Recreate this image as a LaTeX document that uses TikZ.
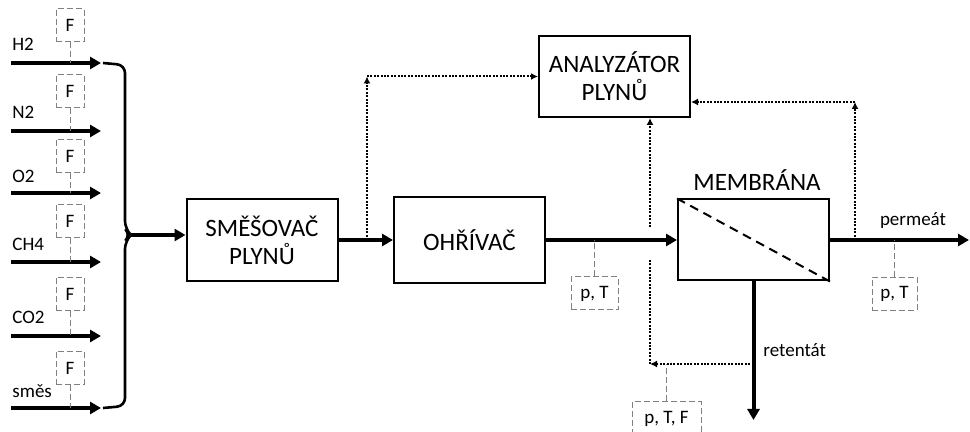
\documentclass[tikz,border=0pt]{standalone}
\usepackage{fontspec}
\setmainfont{Carlito}
\usetikzlibrary{arrows.meta,positioning}

\begin{document}
\begin{tikzpicture}[x=0.5pt,y=-0.5pt,
  unit/.style={draw,line width=1pt,minimum width=75.5pt,minimum height=41pt,inner sep=0pt,align=center,font=\fontsize{12.5}{14}\selectfont},
  meas/.style={draw=gray,dash pattern=on 3pt off 1.5pt,line width=0.5pt,minimum width=14pt,minimum height=16.5pt,inner sep=1pt,font=\fontsize{9.5}{11}\selectfont},
  tap/.style={gray,dash pattern=on 3pt off 1.5pt,line width=0.5pt},
  flow/.style={line width=2pt,-{Triangle[length=5.5pt,width=6pt]}},
  sig/.style={line width=1pt,dash pattern=on 1pt off 0.7pt,-{Latex[length=3.5pt,width=3.5pt]}},
  lbl/.style={font=\fontsize{9.5}{11}\selectfont,inner sep=0pt}
]
\useasboundingbox (0,0) rectangle (970,432);
\clip (0,0) rectangle (970,432);

% vstupni plyny
\coordinate (h2s) at (11,63); \coordinate (h2e) at (101,63);
\draw[flow] (h2s) -- (h2e);
\node[lbl,anchor=west] (h2) at (12,44) {H2};
\node[meas] (fh2) at (70,25.5) {F};
\draw[tap] (fh2.south) -- (fh2.south |- h2e);

\coordinate (n2s) at (11,131); \coordinate (n2e) at (101,131);
\draw[flow] (n2s) -- (n2e);
\node[lbl,anchor=west] (n2) at (12,112) {N2};
\node[meas] (fn2) at (70,91.5) {F};
\draw[tap] (fn2.south) -- (fn2.south |- n2e);

\coordinate (o2s) at (11,193); \coordinate (o2e) at (101,193);
\draw[flow] (o2s) -- (o2e);
\node[lbl,anchor=west] (o2) at (12,176) {O2};
\node[meas] (fo2) at (70,156) {F};
\draw[tap] (fo2.south) -- (fo2.south |- o2e);

\coordinate (ch4s) at (11,262); \coordinate (ch4e) at (101,262);
\draw[flow] (ch4s) -- (ch4e);
\node[lbl,anchor=west] (ch4) at (12,244) {CH4};
\node[meas] (fch4) at (70,221) {F};
\draw[tap] (fch4.south) -- (fch4.south |- ch4e);

\coordinate (co2s) at (11,336); \coordinate (co2e) at (101,336);
\draw[flow] (co2s) -- (co2e);
\node[lbl,anchor=west] (co2) at (12,317) {CO2};
\node[meas] (fco2) at (70,294) {F};
\draw[tap] (fco2.south) -- (fco2.south |- co2e);

\coordinate (mixs) at (11,408); \coordinate (mixe) at (101,408);
\draw[flow] (mixs) -- (mixe);
\node[lbl,anchor=west] (smes) at (12,391) {směs};
\node[meas] (fmix) at (70,368) {F};
\draw[tap] (fmix.south) -- (fmix.south |- mixe);

% zavorka
\coordinate (brTip) at (131,235);
\draw[line width=1.3pt,rounded corners=4pt] (103,63) -- (125,65) -- (125,229) -- (brTip) -- (125,241) -- (125,406) -- (103,408);

% jednotky
\node[unit] (mix) at (262,240) {SMĚŠOVAČ\\PLYNŮ};
\node[unit,minimum height=43pt] (heat) at (469.5,240) {OHŘÍVAČ};
\node[unit,minimum height=40.5pt] (ana) at (614.5,76.5) {ANALYZÁTOR\\PLYNŮ};
\node[unit,minimum height=40.5pt] (mem) at (753.5,240) {};
\draw[line width=1pt,dash pattern=on 4.5pt off 3pt] (mem.north west) -- (mem.south east);
\node[font=\fontsize{12.5}{14}\selectfont,inner sep=0pt] (memlbl) at (757,180) {MEMBRÁNA};

% hlavni tok
\draw[flow] (brTip) -- (brTip -| mix.west);
\draw[flow] (mix.east) -- (heat.west);
\draw[flow] (heat.east) -- (mem.west);
\coordinate (permEnd) at (969,240);
\draw[flow] (mem.east) -- (permEnd);
\coordinate (retEnd) at (753.5,420);
\draw[flow] (mem.south) -- (retEnd);
\node[lbl,anchor=base] (perm) at (913,226) {permeát};
\node[lbl,anchor=base west] (ret) at (763,357) {retentát};

% odbery do analyzatoru
\coordinate (tapA) at (367,240); \coordinate (cornA) at (367,76.5);
\draw[sig] (tapA) -- (cornA);
\draw[sig] (cornA) -- (ana.west);
\coordinate (tapP) at (855,240); \coordinate (cornP) at (855,102);
\draw[sig] (tapP) -- (cornP);
\draw[sig] (cornP) -- (cornP -| ana.east);
\coordinate (retTap) at (753.5,364); \coordinate (cornR) at (650,364);
\draw[sig] (retTap) -- (cornR);
\coordinate (gapLo) at (650,259); \coordinate (gapHi) at (650,227);
\draw[sig,-] (cornR) -- (gapLo);
\draw[sig] (gapHi) -- (gapHi |- ana.south);

% mereni p, T
\node[meas,minimum width=23.5pt] (ptA) at (594.5,293.5) {p, T};
\draw[tap] (ptA.north) -- (ptA.north |- heat.east);
\node[meas,minimum width=22.5pt] (ptB) at (894.5,294) {p, T};
\draw[tap] (ptB.north) -- (ptB.north |- mem.east);
\node[meas,minimum width=34.5pt] (ptF) at (666.5,418.5) {p, T, F};
\draw[tap] (ptF.north) -- (ptF.north |- retTap);
\end{tikzpicture}
\end{document}
